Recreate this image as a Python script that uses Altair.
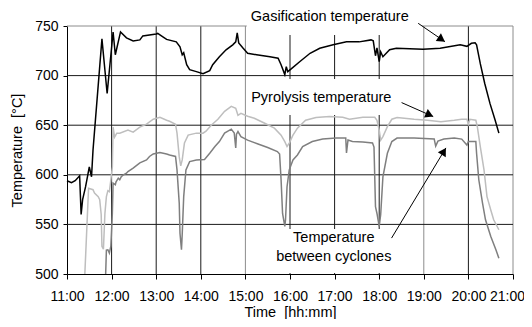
import math
import altair as alt
import pandas as pd

FONT = "Liberation Sans"
W, H = 446, 248
X0, X1 = 11, 21
Y0, Y1 = 500, 750

# ---- series (time hh:mm, temperature °C) ----
gas_time = ["11:00", "11:06", "11:11", "11:17", "11:19", "11:21", "11:25", "11:28", "11:30", "11:33",
            "11:35", "11:47", "11:54", "12:02", "12:05", "12:12", "12:20", "12:29", "12:38", "12:42",
            "13:00", "13:02", "13:09", "13:14", "13:27", "13:32", "13:35", "13:37", "13:41", "13:45",
            "13:54", "14:03", "14:12", "14:16", "14:25", "14:34", "14:43", "14:47", "14:49", "14:51",
            "14:57", "15:03", "15:15", "15:33", "15:44", "15:48", "15:53", "15:55", "15:57", "16:02",
            "16:13", "16:27", "16:40", "16:58", "17:16", "17:33", "17:49", "17:52", "17:55", "17:57",
            "18:00", "18:02", "18:05", "18:14", "18:23", "18:59", "19:22", "19:49", "19:58", "20:04",
            "20:09", "20:11", "20:16", "20:22", "20:29", "20:36", "20:41"]
gas_temp = [594, 592, 594, 599, 560, 575, 588, 600, 608, 598,
            625, 737, 682, 744, 721, 744, 738, 735, 736, 740,
            742, 742.5, 739, 736.5, 734, 729, 721, 723, 711, 706,
            704, 702, 705, 711, 719, 726, 731, 734, 743, 733,
            727.5, 722.5, 721, 719, 717.5, 711, 701, 709, 704, 707,
            714, 722.5, 727.5, 731, 734, 734, 736, 735, 720, 728,
            714, 724, 719, 726, 727.5, 726.5, 727.5, 731, 729.5, 732.6,
            733, 731, 712, 692, 672, 655, 642]

pyr_time = ["11:24", "11:29", "11:35", "11:37", "11:42", "11:44", "11:46", "11:47", "11:49", "11:51",
            "11:53", "11:55", "11:57", "11:59", "12:01", "12:02", "12:04", "12:07", "12:11", "12:22",
            "12:29", "12:38", "12:47", "12:56", "13:05", "13:14", "13:18", "13:26", "13:28", "13:31",
            "13:33", "13:35", "13:38", "13:43", "13:54", "14:03", "14:07", "14:14", "14:23", "14:32",
            "14:41", "14:47", "14:50", "14:54", "15:03", "15:12", "15:26", "15:39", "15:48", "15:53",
            "15:56", "15:59", "16:04", "16:10", "16:21", "16:35", "16:53", "17:11", "17:20", "17:38",
            "17:52", "17:54", "17:57", "18:00", "18:02", "18:05", "18:11", "18:17", "18:24", "18:47",
            "19:05", "19:23", "19:41", "19:51", "19:58", "20:00", "20:02", "20:10", "20:12", "20:16",
            "20:21", "20:25", "20:30", "20:34", "20:41"]
pyr_temp = [500, 586.5, 585, 581.5, 578, 575, 560, 528, 525, 561,
            578, 584, 583, 595, 608, 648, 638, 642, 642, 645,
            643, 648, 651, 656, 658, 655, 654, 651, 642, 618,
            609, 615, 632, 640, 642, 642, 644, 650, 656, 664,
            669, 667, 660, 662, 659, 657, 652, 647, 640, 633.5,
            628.5, 632, 640, 647, 655, 657.7, 658.7, 658, 656, 658,
            658, 658, 655, 645, 635, 638.5, 648.6, 656, 657.7, 656,
            655, 653.6, 655, 656, 656, 651, 656, 655, 648.6, 628.5,
            605, 578, 564.7, 554.6, 544.6]

cyc_time = ["11:52", "11:53", "11:55", "11:57", "11:59", "12:01", "12:02", "12:05", "12:06", "12:09",
            "12:11", "12:13", "12:16", "12:20", "12:22", "12:29", "12:38", "12:47", "12:51", "12:56",
            "13:05", "13:14", "13:18", "13:26", "13:28", "13:31", "13:32", "13:34", "13:35", "13:37",
            "13:40", "13:45", "13:54", "14:05", "14:12", "14:19", "14:25", "14:32", "14:41", "14:45",
            "14:47", "14:48", "14:50", "14:54", "15:03", "15:17", "15:30", "15:43", "15:46", "15:48",
            "15:50", "15:53", "15:54", "15:56", "15:59", "16:04", "16:10", "16:17", "16:30", "16:44",
            "17:02", "17:15", "17:16", "17:18", "17:24", "17:38", "17:51", "17:53", "17:55", "17:57",
            "18:00", "18:02", "18:05", "18:11", "18:17", "18:24", "18:47", "19:14", "19:16", "19:19",
            "19:27", "19:41", "19:51", "19:58", "20:00", "20:10", "20:11", "20:14", "20:19", "20:23",
            "20:30", "20:37", "20:41"]
cyc_temp = [500, 524, 524.4, 521, 528, 561, 591.6, 590, 593, 596.6,
            595, 598, 600, 601.6, 603.3, 606.7, 612, 615, 618.5, 621,
            622.4, 621, 620, 618.5, 605, 571.4, 541, 524.4, 540, 578,
            605, 613.3, 615, 615.5, 621.7, 628.5, 633.5, 642, 646, 642,
            627, 641, 643.6, 638.5, 635, 631, 627.5, 623.4, 621, 595,
            561, 548, 555, 588, 605, 615, 620, 628.5, 633.5, 636,
            637, 637, 622, 635, 633.5, 633, 632, 628, 568, 561,
            548, 560, 598, 621.7, 633.5, 637, 637, 636, 629, 634,
            636, 637, 636, 630, 633.5, 633.5, 621.7, 595, 571.4, 554.6,
            538, 524.4, 516]

series_names = ["Gasification temperature", "Pyrolysis temperature", "Temperature between cyclones"]
series_colors = ["#000000", "#bebebe", "#7f7f7f"]

# ---- axes / grid ----
x_ticks = list(range(11, 22))
y_ticks = [500, 550, 600, 650, 700, 750]
vgrid_dark = [12, 13, 14, 16, 17, 18, 20]
vgrid_light = [15, 19, 21]
hgrid_dark = [550, 600, 650, 700]
hgrid_light = [750]

# ---- annotations ----
label_text = ["Gasification temperature", "Pyrolysis temperature", "Temperature", "between cyclones"]
label_t = [16.892, 16.701, 16.982, 16.982]
label_T = [759.1, 677.5, 536.5, 517.4]

box_t = [15.03, 15.03, 15.50]
box_t2 = [18.96, 18.41, 18.39]
box_T = [741.0, 660.3, 501.0]
box_T2 = [752.0, 696.6, 545.4]

arrow_t = [18.874, 18.502, 18.277]
arrow_T = [752.7, 672.8, 536.2]
arrow_t2 = [19.474, 19.211, 19.496]
arrow_T2 = [734.2, 658.7, 627.1]
HEAD_SIZE = 85


def to_hours(s):
    h, m = s.split(":")
    return int(h) + int(m) / 60.0


rows = []
for name, times, temps in zip(series_names, [gas_time, pyr_time, cyc_time], [gas_temp, pyr_temp, cyc_temp]):
    for k, (tm, v) in enumerate(zip(times, temps)):
        rows.append({"series": name, "t": to_hours(tm), "T": v, "k": k})
lines_df = pd.DataFrame(rows)

PX_T = W / (X1 - X0)
PX_Y = H / (Y1 - Y0)
back = math.sqrt(3) * math.sqrt(HEAD_SIZE) / 4.0
head_rows = []
for ts, Ts, te, Te in zip(arrow_t, arrow_T, arrow_t2, arrow_T2):
    dx = (te - ts) * PX_T
    dy = -(Te - Ts) * PX_Y
    L = math.hypot(dx, dy)
    ux, uy = dx / L, dy / L
    head_rows.append({
        "t": te - ux * back / PX_T,
        "T": Te + uy * back / PX_Y,
        "angle": math.degrees(math.atan2(ux, -uy)) % 360,
    })
heads_df = pd.DataFrame(head_rows)
arrows_df = pd.DataFrame({"t": arrow_t, "T": arrow_T, "t2": arrow_t2, "T2": arrow_T2})
boxes_df = pd.DataFrame({"t": box_t, "t2": box_t2, "T": box_T, "T2": box_T2})
labels_df = pd.DataFrame({"t": label_t, "T": label_T, "label": label_text})

xs = alt.Scale(domain=[X0, X1], nice=False, zero=False)
ys = alt.Scale(domain=[Y0, Y1], nice=False, zero=False)

X_AXIS = alt.Axis(
    values=x_ticks, labelExpr="datum.value + ':00'", title="Time \u00a0[hh:mm]",
    grid=False, tickSize=5, labelPadding=10, labelFlush=False, labelOverlap=False,
    labelOffset={"condition": {"test": "datum.value == 21", "value": -6}, "value": 0},
    titleY=45, titleBaseline="bottom", titleX=W / 2)
Y_AXIS = alt.Axis(
    values=y_ticks, title="Temperature \u00a0[°C]", grid=False, tickSize=4, labelPadding=5,
    labelFlush=False, labelOverlap=False, titleX=-50, titleY=H / 2, titleAngle=270,
    titleAlign="center", titleBaseline="middle")


def xenc(field="t"):
    return alt.X(f"{field}:Q", scale=xs, axis=X_AXIS)


def yenc(field="T"):
    return alt.Y(f"{field}:Q", scale=ys, axis=Y_AXIS)


vdark = alt.Chart(pd.DataFrame({"t": vgrid_dark})).mark_rule(color="#1a1a1a", strokeWidth=1).encode(x=xenc())
vlight = alt.Chart(pd.DataFrame({"t": vgrid_light})).mark_rule(color="#8c8c8c", strokeWidth=1).encode(x=xenc())
hdark = alt.Chart(pd.DataFrame({"T": hgrid_dark})).mark_rule(color="#1a1a1a", strokeWidth=1).encode(y=yenc())
hlight = alt.Chart(pd.DataFrame({"T": hgrid_light})).mark_rule(color="#8c8c8c", strokeWidth=1).encode(y=yenc())

boxes = alt.Chart(boxes_df).mark_rect(color="white").encode(
    x=xenc(), x2="t2:Q", y=yenc(), y2="T2:Q"
)

lines = alt.Chart(lines_df).mark_line(strokeWidth=1.5).encode(
    x=xenc(), y=yenc(),
    color=alt.Color("series:N", scale=alt.Scale(domain=series_names, range=series_colors), legend=None),
    order="k:Q",
)

arrows = alt.Chart(arrows_df).mark_rule(color="black", strokeWidth=1).encode(
    x=xenc(), y=yenc(), x2="t2:Q", y2="T2:Q"
)
heads = alt.Chart(heads_df).mark_point(shape="triangle-up", filled=True, size=HEAD_SIZE,
                                       color="black", opacity=1).encode(
    x=xenc(), y=yenc(), angle=alt.Angle("angle:Q", scale=None)
)
labels = alt.Chart(labels_df).mark_text(font=FONT, fontSize=14.5, color="black",
                                        align="center", baseline="middle").encode(
    x=xenc(), y=yenc(), text="label:N"
)

chart = alt.layer(vdark, vlight, hdark, hlight, boxes, lines, arrows, heads, labels).properties(
    width=W, height=H,
    autosize=alt.AutoSizeParams(type="none"),
    padding={"left": 59, "top": 18, "right": 11, "bottom": 45},
    background="white",
).configure_view(stroke=None).configure_axis(
    labelFont=FONT, titleFont=FONT, labelFontSize=14, titleFontSize=14.5,
    labelColor="black", titleColor="black", titleFontWeight="normal",
    domainColor="black", tickColor="black", domainWidth=1, tickWidth=1,
)

chart.save("out.html", embed_options={"renderer": "svg", "actions": False})
